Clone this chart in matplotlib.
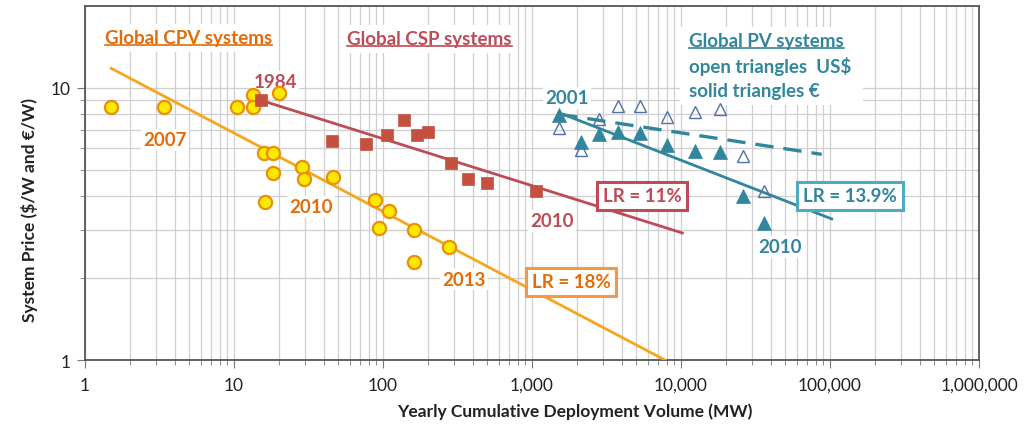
import numpy as np
import matplotlib
matplotlib.use("Agg")
import matplotlib.pyplot as plt
from matplotlib.patches import Rectangle
from matplotlib.lines import Line2D
from matplotlib.ticker import LogLocator, NullFormatter, FixedLocator, FixedFormatter

plt.rcParams['font.family'] = ['Lato', 'DejaVu Sans']

# ---------------- data ----------------
cpv_x = [1.5, 3.4, 10.4, 13.4, 13.4, 20.1, 15.9, 18.4, 18.4, 28.7, 29.6, 46.4, 16.1, 88, 110, 94, 162, 279, 162]
cpv_y = [8.5, 8.5, 8.5, 9.4, 8.5, 9.6, 5.75, 5.75, 4.87, 5.1, 4.62, 4.7, 3.8, 3.88, 3.54, 3.06, 3.0, 2.61, 2.3]

csp_x = [15.2, 45.7, 77, 106, 138, 170, 200, 285, 374, 501, 1064]
csp_y = [9.0, 6.4, 6.2, 6.7, 7.6, 6.7, 6.9, 5.3, 4.63, 4.46, 4.19]

pv_x = [1525, 2120, 2820, 3790, 5310, 8100, 12400, 18400, 25900, 36300]
pv_eur = [7.96, 6.31, 6.77, 6.91, 6.83, 6.17, 5.88, 5.80, 4.02, 3.19]
pv_usd = [7.11, 5.93, 7.69, 8.56, 8.56, 7.80, 8.14, 8.37, 5.64, 4.19]

cpv_fit_x = [1.5, 7800]
cpv_fit_y = [11.8, 1.0]
csp_fit_x = [15.2, 10200]
csp_fit_y = [9.0, 2.93]
pv_eur_fit_x = [1525, 102600]
pv_eur_fit_y = [8.1, 3.3]
pv_usd_fit_x = [1525, 88000]
pv_usd_fit_y = [8.0, 5.7]

x_ticks = [1, 10, 100, 1000, 10000, 100000, 1000000]
x_ticklabels = ['1', '10', '100', '1,000', '10,000', '100,000', '1,000,000']
y_ticks = [1, 10]
y_ticklabels = ['1', '10']

# ---------------- colours ----------------
c_cpv_text = '#E36C09'
c_cpv_line = '#F7A51C'
c_cpv_fill = '#FFE800'
c_cpv_edge = '#E8900C'
c_csp = '#BE4B55'
c_csp_sq = '#C4513F'
c_pv = '#31859C'
c_pv_open = '#4F71A8'
c_pv_box = '#4BACC6'
c_lr18 = '#F79646'

W, H = 1025, 427
fig = plt.figure(figsize=(W / 100, H / 100), dpi=100)
L, R, T, B = 85, 979, 7, 361
ax = fig.add_axes([L / W, 1 - B / H, (R - L) / W, (B - T) / H])
ax.set_xscale('log')
ax.set_yscale('log')
ax.set_xlim(1, 1000000)
ax.set_ylim(1, 20)

def fx(px):
    return (px - L) / (R - L)

def fy(py):
    return (B - py) / (B - T)

# grid
ax.xaxis.set_major_locator(FixedLocator(x_ticks))
ax.xaxis.set_major_formatter(FixedFormatter(x_ticklabels))
ax.xaxis.set_minor_locator(LogLocator(base=10, subs=np.arange(2, 10), numticks=20))
ax.xaxis.set_minor_formatter(NullFormatter())
ax.yaxis.set_major_locator(FixedLocator(y_ticks))
ax.yaxis.set_major_formatter(FixedFormatter(y_ticklabels))
ax.yaxis.set_minor_locator(FixedLocator([2, 3, 4, 5, 6, 7, 8, 9]))
ax.yaxis.set_minor_formatter(NullFormatter())
ax.grid(which='both', color='#CFCFCF', linewidth=0.9)
ax.set_axisbelow(True)
for s in ax.spines.values():
    s.set_color('#555555')
    s.set_linewidth(1.3)
ax.tick_params(which='both', direction='out', colors='#777777', labelcolor='#222222', labelsize=12.5)
ax.tick_params(which='major', length=6)
ax.tick_params(which='minor', length=3.5)
ax.tick_params(axis='x', pad=6)
ax.tick_params(axis='y', pad=4)

ax.set_xlabel('Yearly Cumulative Deployment Volume (MW)', fontsize=12.5, fontweight='bold', color='#222222')
ax.set_ylabel('System Price ($/W and €/W)', fontsize=12.5, fontweight='bold', color='#222222')
ax.xaxis.set_label_coords(fx(575), fy(412), transform=ax.transAxes)
ax.yaxis.set_label_coords(fx(30), fy(210), transform=ax.transAxes)
ax.xaxis.label.set_va('center')
ax.yaxis.label.set_va('center')

# lines
ax.plot(cpv_fit_x, cpv_fit_y, color=c_cpv_line, lw=2.0, zorder=3)
ax.plot(csp_fit_x, csp_fit_y, color=c_csp, lw=2.0, zorder=3)
ax.plot(pv_eur_fit_x, pv_eur_fit_y, color=c_pv, lw=2.0, zorder=3)
ax.plot(pv_usd_fit_x, pv_usd_fit_y, color=c_pv, lw=2.4, ls=(0, (5.5, 3)), zorder=3)

# white panel behind the PV title block
ax.add_patch(Rectangle((fx(680), fy(106)), fx(863) - fx(680), fy(28) - fy(106),
                       transform=ax.transAxes, facecolor='white', edgecolor='none', zorder=1.8))

# markers
ax.plot(cpv_x, cpv_y, ls='none', marker='o', ms=9.5, mfc=c_cpv_fill, mec=c_cpv_edge, mew=1.6, zorder=4)
ax.plot(csp_x, csp_y, ls='none', marker='s', ms=8, mfc=c_csp_sq, mec=c_csp_sq, mew=0.5, zorder=4)
ax.plot(pv_x, pv_usd, ls='none', marker='^', ms=9, mfc='none', mec=c_pv_open, mew=1.0, zorder=4)
ax.plot(pv_x, pv_eur, ls='none', marker='^', ms=10, mfc=c_pv, mec=c_pv, mew=0.5, zorder=5)

fs = 13.5
white = dict(facecolor='white', edgecolor='none', pad=1.5)

# titles
t_cpv = ax.text(fx(105), fy(39), 'Global CPV systems', transform=ax.transAxes, ha='left', va='center',
                fontsize=fs, fontweight='bold', color=c_cpv_text, bbox=dict(facecolor='white', edgecolor='none', pad=4), zorder=6)
t_csp = ax.text(fx(347), fy(40), 'Global CSP systems', transform=ax.transAxes, ha='left', va='center',
                fontsize=fs, fontweight='bold', color=c_csp, bbox=dict(facecolor='white', edgecolor='none', pad=4), zorder=6)
t_pv = ax.text(fx(689), fy(42), 'Global PV systems', transform=ax.transAxes, ha='left', va='center',
               fontsize=fs, fontweight='bold', color=c_pv, zorder=6)
ax.text(fx(689), fy(67), 'open triangles  US$', transform=ax.transAxes, ha='left', va='center',
        fontsize=fs, fontweight='bold', color=c_pv, zorder=6)
ax.text(fx(689), fy(92), 'solid triangles €', transform=ax.transAxes, ha='left', va='center',
        fontsize=fs, fontweight='bold', color=c_pv, zorder=6)

# year labels
years = [('2007', 165, 141, c_cpv_text), ('1984', 275, 83, c_csp), ('2010', 311, 208, c_cpv_text),
         ('2013', 464, 280, c_cpv_text), ('2010', 552, 222, c_csp), ('2001', 567, 99, c_pv),
         ('2010', 780, 248, c_pv)]
for txt, px, py, col in years:
    ax.text(fx(px), fy(py), txt, transform=ax.transAxes, ha='center', va='center',
            fontsize=fs, fontweight='bold', color=col, bbox=white, zorder=3.5)

# LR boxes
lrs = [('LR = 11%', 642, 197, c_csp, c_csp), ('LR = 18%', 571, 283, c_cpv_text, c_lr18),
       ('LR = 13.9%', 850, 197, c_pv, c_pv_box)]
for txt, px, py, tc, ec in lrs:
    ax.text(fx(px), fy(py), txt, transform=ax.transAxes, ha='center', va='center',
            fontsize=fs, fontweight='bold', color=tc,
            bbox=dict(facecolor='white', edgecolor=ec, linewidth=2.2, boxstyle='square,pad=0.3'), zorder=6)

# underline titles
fig.canvas.draw()
renderer = fig.canvas.get_renderer()
inv = fig.transFigure.inverted()
for t, col in [(t_cpv, c_cpv_text), (t_csp, c_csp), (t_pv, c_pv)]:
    bb = t.get_window_extent(renderer)
    (x0, y0) = inv.transform((bb.x0, bb.y0 + 1))
    (x1, _) = inv.transform((bb.x1, bb.y0 + 1))
    fig.add_artist(Line2D([x0, x1], [y0, y0], transform=fig.transFigure, color=col, lw=1.2, zorder=7))

fig.savefig('out.png', dpi=100)
